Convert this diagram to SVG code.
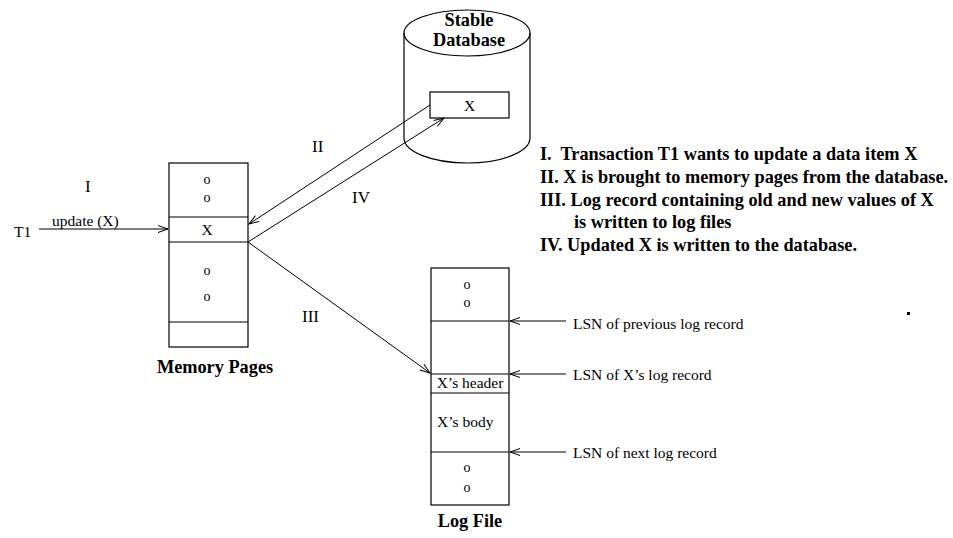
<svg xmlns="http://www.w3.org/2000/svg" width="953" height="538" viewBox="0 0 953 538">
<style>
.s{fill:none;stroke:#000;stroke-width:1.2}
.a{fill:none;stroke:#000;stroke-width:1}
.t{font-family:"Liberation Serif","Times New Roman",serif;fill:#000}
.n{font-size:15.5px}
.sm{font-size:14px}
.r{font-size:17px}
.b{font-weight:bold;font-size:18.3px}
.c{text-anchor:middle}
</style>
<defs>
<marker id="ah" markerWidth="12" markerHeight="10" refX="11" refY="5" orient="auto" markerUnits="userSpaceOnUse">
<polyline points="1,1.5 11,5 1,8.5" fill="none" stroke="#000" stroke-width="1"/>
</marker>
</defs>
<rect width="953" height="538" fill="#fff"/>
<g id="stable-database">
<ellipse class="s" cx="467" cy="33" rx="63" ry="23"/>
<path class="s" d="M404,33 V138 A63,25 0 0 0 530,138 V33"/>
<text class="t b c" x="469" y="26">Stable</text>
<text class="t b c" x="469" y="46">Database</text>
<rect class="s" x="430" y="92" width="79" height="26"/>
<text class="t n c" x="469.5" y="111">X</text>
</g>
<g id="memory-pages">
<rect class="s" x="169" y="163" width="79" height="184"/>
<line class="s" x1="169" y1="217" x2="248" y2="217"/>
<line class="s" x1="169" y1="242" x2="248" y2="242"/>
<line class="s" x1="169" y1="322" x2="248" y2="322"/>
<text class="t sm c" x="207" y="184">o</text>
<text class="t sm c" x="207" y="202">o</text>
<text class="t n c" x="207" y="235">X</text>
<text class="t sm c" x="207" y="275">o</text>
<text class="t sm c" x="207" y="301">o</text>
<text class="t b c" x="215" y="373">Memory Pages</text>
</g>
<g id="log-file">
<rect class="s" x="431" y="268" width="78" height="237"/>
<line class="s" x1="431" y1="321" x2="509" y2="321"/>
<line class="s" x1="431" y1="374" x2="509" y2="374"/>
<line class="s" x1="431" y1="393" x2="509" y2="393"/>
<line class="s" x1="431" y1="452" x2="509" y2="452"/>
<text class="t sm c" x="467" y="289">o</text>
<text class="t sm c" x="467" y="307">o</text>
<text class="t n c" x="470" y="388">X’s header</text>
<text class="t n" x="437" y="427">X’s body</text>
<text class="t sm c" x="467" y="472">o</text>
<text class="t sm c" x="467" y="492">o</text>
<text class="t b c" x="470" y="527">Log File</text>
</g>
<g id="t1">
<text class="t n" x="14" y="237">T1</text>
<text class="t r" x="85" y="192">I</text>
</g>
<g id="connectors">
<line class="a" x1="39" y1="229" x2="168" y2="229" marker-end="url(#ah)"/>
<line class="a" x1="430" y1="105" x2="249" y2="224" marker-end="url(#ah)"/>
<line class="a" x1="248" y1="242" x2="444" y2="118" marker-end="url(#ah)"/>
<line class="a" x1="248" y1="242" x2="430" y2="373" marker-end="url(#ah)"/>
<line class="a" x1="566" y1="321" x2="510" y2="321" marker-end="url(#ah)"/>
<line class="a" x1="566" y1="374" x2="510" y2="374" marker-end="url(#ah)"/>
<line class="a" x1="566" y1="452" x2="510" y2="452" marker-end="url(#ah)"/>
<text class="t n" x="52" y="226">update (X)</text>
<text class="t r" x="312" y="152">II</text>
<text class="t r" x="352" y="203">IV</text>
<text class="t r" x="302" y="322">III</text>
<text class="t n" x="573" y="329">LSN of previous log record</text>
<text class="t n" x="573" y="380">LSN of X’s log record</text>
<text class="t n" x="573" y="458">LSN of next log record</text>
</g>
<g id="legend">
<text class="t b" x="540" y="160">I.&#160; Transaction T1 wants to update a data item X</text>
<text class="t b" x="540" y="183">II. X is brought to memory pages from the database.</text>
<text class="t b" x="540" y="206">III. Log record containing old and new values of X</text>
<text class="t b" x="574" y="228">is written to log files</text>
<text class="t b" x="540" y="251">IV. Updated X is written to the database.</text>
<rect x="907" y="312" width="3" height="3" fill="#000"/>
</g>
</svg>
